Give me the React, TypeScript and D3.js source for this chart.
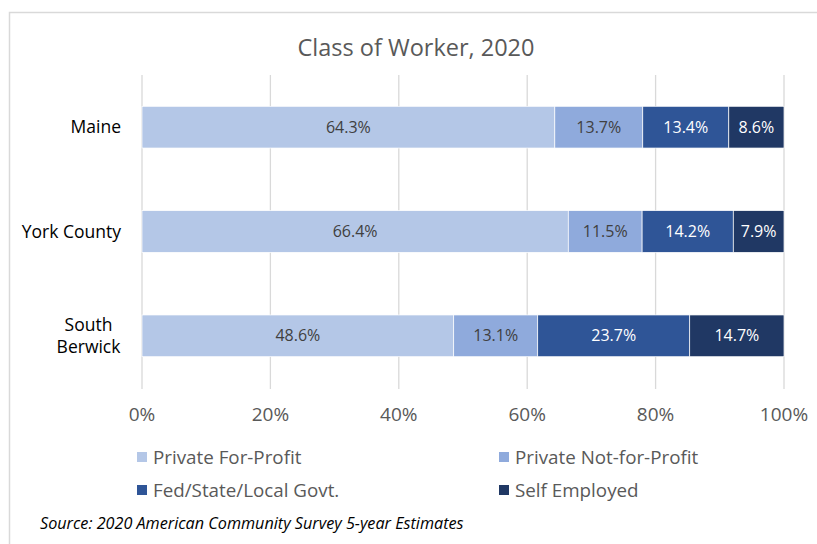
import React from "react";
import * as d3 from "d3";

const categories = ["Maine", "York County", "South Berwick"];
const categoryLines = [["Maine"], ["York County"], ["South", "Berwick"]];
const seriesNames = ["Private For-Profit", "Private Not-for-Profit", "Fed/State/Local Govt.", "Self Employed"];
const privateForProfit = [64.3, 66.4, 48.6];
const privateNotForProfit = [13.7, 11.5, 13.1];
const govt = [13.4, 14.2, 23.7];
const selfEmployed = [8.6, 7.9, 14.7];
const seriesColors = ["#B4C7E7", "#8FAADC", "#2F5597", "#203864"];
const labelColors = ["#404040", "#404040", "#FFFFFF", "#FFFFFF"];
const xTicks = [0, 20, 40, 60, 80, 100];

const W = 817, H = 544;
const FONT = "'Open Sans', 'Noto Sans', sans-serif";

export default function App() {
  const series = [privateForProfit, privateNotForProfit, govt, selfEmployed];
  const x = d3.scaleLinear().domain([0, 100]).range([142, 784]);
  const y = d3.scaleBand().domain(categories).range([75, 388]).paddingInner(0.6).paddingOuter(0.3);

  const rows = categories.map((c, i) => {
    const vals = series.map((s) => s[i]);
    const total = d3.sum(vals);
    let acc = 0;
    return vals.map((v, k) => {
      const x0 = (acc / total) * 100;
      acc += v;
      const x1 = (acc / total) * 100;
      return { cat: c, k, v, x0, x1 };
    });
  });

  const legendPos = [
    [137, 457], [499, 457], [137, 490], [499, 490],
  ];
  const labelFont = 17.5;

  return (
    <svg width={W} height={H} style={{ position: "absolute", left: 0, top: 0, background: "#fff" }} fontFamily={FONT}>
      <rect x={9.5} y={12.5} width={900} height={600} fill="#fff" stroke="#D9D9D9" strokeWidth={1.5} />
      <text x={416} y={56} textAnchor="middle" fontSize={23.5} fill="#595959">Class of Worker, 2020</text>
      {xTicks.map((t) => (
        <line key={t} x1={x(t)} x2={x(t)} y1={75} y2={389} stroke="#D9D9D9" strokeWidth={1.3} />
      ))}
      {xTicks.map((t) => (
        <text key={"t" + t} x={x(t)} y={421} textAnchor="middle" fontSize={19} fill="#595959">{t}%</text>
      ))}
      {categoryLines.map((lines, i) => {
        const cy = (y(categories[i]) as number) + y.bandwidth() / 2;
        const lh = 22;
        const start = cy - ((lines.length - 1) * lh) / 2;
        const maxLen = d3.max(lines, (l) => l.length) as number;
        const multi = lines.length > 1;
        // block right-aligned at x=121, lines centered within block
        const approxW = maxLen * labelFont * 0.53;
        return lines.map((l, j) => (
          <text key={i + "-" + j} x={multi ? 121 - approxW / 2 : 121} y={start + j * lh} dy="0.35em"
            textAnchor={multi ? "middle" : "end"} fontSize={labelFont} fill="#000">{l}</text>
        ));
      })}
      {rows.map((segs, i) =>
        segs.map((s) => {
          const y0 = y(s.cat) as number;
          return (
            <g key={i + "-" + s.k}>
              <rect x={x(s.x0)} y={y0} width={x(s.x1) - x(s.x0)} height={y.bandwidth()} fill={seriesColors[s.k]} stroke="#fff" strokeWidth={0.7} />
              <text x={(x(s.x0) + x(s.x1)) / 2} y={y0 + y.bandwidth() / 2} dy="0.35em" textAnchor="middle" fontSize={16} fill={labelColors[s.k]}>{s.v.toFixed(1)}%</text>
            </g>
          );
        })
      )}
      {seriesNames.map((n, k) => (
        <g key={n}>
          <rect x={legendPos[k][0]} y={legendPos[k][1] - 5} width={10} height={10} fill={seriesColors[k]} />
          <text x={legendPos[k][0] + 16} y={legendPos[k][1]} dy="0.35em" fontSize={18.8} fill="#595959">{n}</text>
        </g>
      ))}
      <text x={40} y={529} fontSize={16.2} fontStyle="italic" fill="#000">Source: 2020 American Community Survey 5-year Estimates</text>
    </svg>
  );
}
